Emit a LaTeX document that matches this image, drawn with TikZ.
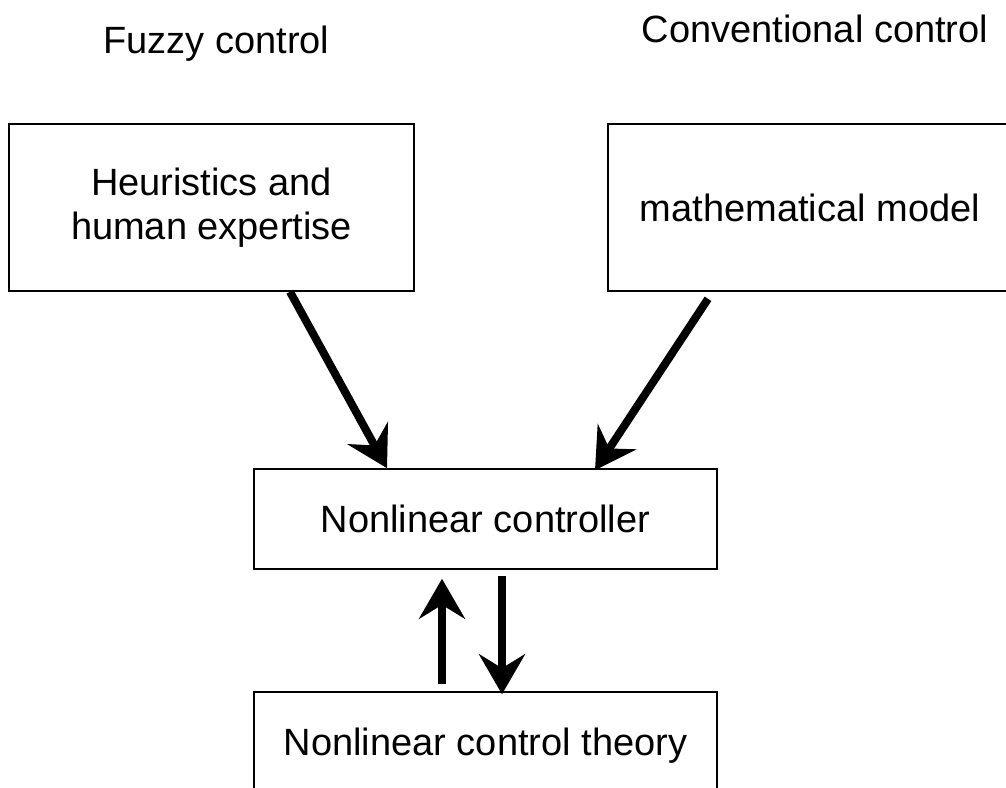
\documentclass[tikz,border=0pt]{standalone}
\usepackage{fontspec}
\setmainfont{Liberation Sans}
\usetikzlibrary{arrows.meta}
\tikzset{
  box/.style={draw=black, line width=1.6pt, inner sep=0pt, align=center,
    font=\fontsize{38}{44}\selectfont},
  title/.style={anchor=base, inner sep=0pt, font=\fontsize{38}{44}\selectfont},
  arr/.style={line width=8pt, -{Stealth[length=40pt, width=46pt, inset=14pt]}}
}
\begin{document}
\begin{tikzpicture}[x=1pt,y=-1pt]
\clip (0,0) rectangle (1006,787);
\fill[white] (0,0) rectangle (1006,787);
\node[title] (tf) at (216.5,53) {Fuzzy control};
\node[title] (tc) at (815,42) {Conventional control};
\node[box, minimum width=405pt, minimum height=167pt] (lbox) at (211.5,207.5) {Heuristics and\\human expertise};
\node[box, minimum width=404pt, minimum height=167pt] (rbox) at (810,207.5) {mathematical model};
\node[box, minimum width=463pt, minimum height=100pt] (mid) at (485.5,519) {Nonlinear controller};
\node[box, minimum width=463pt, minimum height=100pt, text depth=0pt] (bot) at (485.5,742) {Nonlinear control theory};
\draw[arr] ([xshift=78.5pt]lbox.south) -- ([xshift=-98.5pt]mid.north);
\draw[arr] ([xshift=-102pt,yshift=-7pt]rbox.south) -- ([xshift=109.5pt,yshift=-2pt]mid.north);
\draw[arr] ([xshift=-43.5pt,yshift=7pt]bot.north) -- ([xshift=-43.5pt,yshift=-9pt]mid.south);
\draw[arr] ([xshift=16.5pt,yshift=-6pt]mid.south) -- ([xshift=16.5pt,yshift=-3pt]bot.north);
\end{tikzpicture}
\end{document}
